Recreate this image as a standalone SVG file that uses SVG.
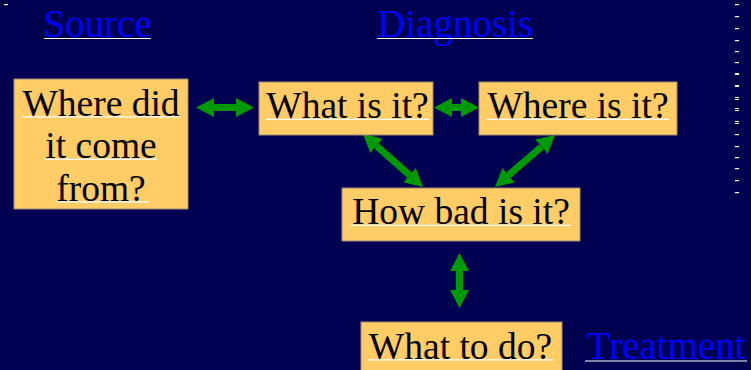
<svg xmlns="http://www.w3.org/2000/svg" width="751" height="370" viewBox="0 0 751 370">
  <style>
    .box { fill: #FFCC66; stroke: #9C8A74; stroke-width: 1; }
    .txt { font-family: "Liberation Serif", "Times New Roman", serif; font-size: 37.5px; fill: #000000; text-anchor: middle; }
    .head { font-family: "Liberation Serif", "Times New Roman", serif; font-size: 39px; fill: #0000FF; text-anchor: middle; }
    .ul { stroke: #FFFFFF; stroke-width: 1.2; }
    .arrow { stroke: #009900; stroke-width: 7; fill: none; marker-start: url(#ah); marker-end: url(#ah); }
    .tick { fill: #FFFFFF; }
  </style>
  <defs>
    <marker id="ah" viewBox="0 -9.5 18 19" refX="0" refY="0" markerWidth="18" markerHeight="19" markerUnits="userSpaceOnUse" orient="auto-start-reverse">
      <path d="M0,-9.5 L18,0 L0,9.5 Z" fill="#009900"/>
    </marker>
  </defs>
  <rect x="0" y="0" width="751" height="370" fill="#000050"/>

  <g id="decor">
    <rect class="tick" x="4" y="4" width="4" height="1.2"/>
    <rect class="tick" x="735" y="4" width="4" height="1.2"/>
    <rect class="tick" x="735" y="16" width="4" height="1.2"/>
    <rect class="tick" x="735" y="28" width="4" height="1.2"/>
    <rect class="tick" x="735" y="40" width="4" height="1.2"/>
    <rect class="tick" x="735" y="51" width="4" height="1.2"/>
    <rect class="tick" x="735" y="62" width="4" height="1.2"/>
    <rect class="tick" x="735" y="73" width="4" height="2"/>
    <rect class="tick" x="735" y="85" width="4" height="2"/>
    <rect class="tick" x="735" y="97" width="4" height="1"/>
    <rect class="tick" x="735" y="99" width="4" height="1"/>
    <rect class="tick" x="735" y="108" width="4" height="1"/>
    <rect class="tick" x="735" y="110" width="4" height="1"/>
    <rect class="tick" x="735" y="121" width="4" height="1"/>
    <rect class="tick" x="735" y="123" width="4" height="1"/>
    <rect class="tick" x="735" y="134" width="4" height="1.2"/>
    <rect class="tick" x="735" y="146" width="4" height="1.2"/>
    <rect class="tick" x="735" y="157" width="4" height="1.2"/>
    <rect class="tick" x="735" y="168" width="4" height="1.2"/>
    <rect class="tick" x="735" y="180" width="4" height="1.2"/>
    <rect class="tick" x="735" y="192" width="4" height="1.2"/>
  </g>

  <g id="heading-source">
    <text class="head" x="97.5" y="37">Source</text>
    <line class="ul" x1="44" y1="38.5" x2="151" y2="38.5"/>
  </g>
  <g id="heading-diagnosis">
    <text class="head" x="455" y="37">Diagnosis</text>
    <line class="ul" x1="377" y1="38.5" x2="533" y2="38.5"/>
  </g>
  <g id="heading-treatment">
    <text class="head" x="666" y="359">Treatment</text>
    <line class="ul" x1="585" y1="361" x2="747" y2="361"/>
  </g>

  <g id="connectors">
    <line class="arrow" x1="214" y1="107.5" x2="236" y2="107.5"/>
    <line class="arrow" x1="452" y1="107.5" x2="461" y2="107.5"/>
    <line class="arrow" x1="376.5" y1="145.9" x2="409.5" y2="175.1"/>
    <line class="arrow" x1="541.4" y1="146.8" x2="508.6" y2="175.2"/>
    <line class="arrow" x1="459.5" y1="271" x2="459.5" y2="290"/>
  </g>

  <g id="node-source">
    <rect class="box" x="14" y="79" width="174" height="130"/>
    <text class="txt" x="101" y="115.5">Where did</text>
    <line class="ul" x1="22" y1="116.8" x2="180" y2="116.8"/>
    <text class="txt" x="101" y="158">it come</text>
    <line class="ul" x1="45" y1="159.3" x2="157" y2="159.3"/>
    <text class="txt" x="101" y="200.5">from?</text>
    <line class="ul" x1="56" y1="201.8" x2="149" y2="201.8"/>
  </g>

  <g id="node-what">
    <rect class="box" x="259" y="82" width="174" height="53"/>
    <text class="txt" x="347.5" y="118">What is it?</text>
    <line class="ul" x1="266" y1="119.3" x2="429" y2="119.3"/>
  </g>

  <g id="node-where">
    <rect class="box" x="479" y="82" width="198" height="53"/>
    <text class="txt" x="578" y="118">Where is it?</text>
    <line class="ul" x1="487" y1="119.3" x2="669" y2="119.3"/>
  </g>

  <g id="node-howbad">
    <rect class="box" x="342" y="188" width="238" height="53"/>
    <text class="txt" x="461" y="224">How bad is it?</text>
    <line class="ul" x1="351" y1="225.3" x2="571" y2="225.3"/>
  </g>

  <g id="node-todo">
    <rect class="box" x="361" y="322" width="201" height="60"/>
    <text class="txt" x="460.5" y="358.5">What to do?</text>
    <line class="ul" x1="368" y1="359.8" x2="553" y2="359.8"/>
  </g>
</svg>
